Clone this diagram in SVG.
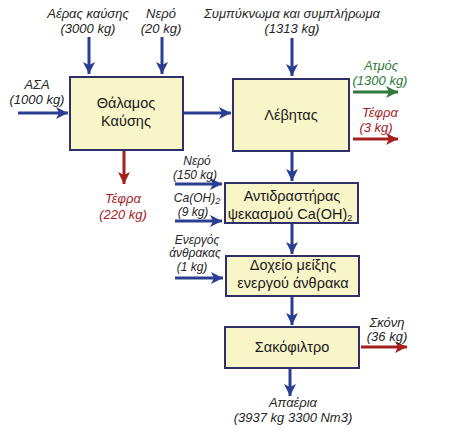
<svg xmlns="http://www.w3.org/2000/svg" width="452" height="438" viewBox="0 0 452 438">
<style>
.box{fill:#f8f5c9;stroke:#2f2f6a;stroke-width:2}
.bt{font-family:"Liberation Sans",Arial,sans-serif;font-size:14.5px;fill:#1a1a1a;text-anchor:middle}
.lb{font-family:"Liberation Sans",Arial,sans-serif;font-size:13px;font-style:italic;fill:#262626;text-anchor:middle}
.sm{font-size:12px}
.g{fill:#2e7a3a}
.r{fill:#a3201e}
.ab{stroke:#2b3e94;stroke-width:3;fill:none;marker-end:url(#mb)}
.ag{stroke:#2e7a3a;stroke-width:3;fill:none;marker-end:url(#mg)}
.ar{stroke:#a3201e;stroke-width:3;fill:none;marker-end:url(#mr)}
</style>
<defs>
<marker id="mb" markerUnits="userSpaceOnUse" markerWidth="12" markerHeight="12" refX="12" refY="6" orient="auto"><path d="M0,0 L12,6 L0,12 L3,6 z" fill="#2b3e94"/></marker>
<marker id="mg" markerUnits="userSpaceOnUse" markerWidth="12" markerHeight="12" refX="12" refY="6" orient="auto"><path d="M0,0 L12,6 L0,12 L3,6 z" fill="#2e7a3a"/></marker>
<marker id="mr" markerUnits="userSpaceOnUse" markerWidth="12" markerHeight="12" refX="12" refY="6" orient="auto"><path d="M0,0 L12,6 L0,12 L3,6 z" fill="#a3201e"/></marker>
</defs>
<rect width="452" height="438" fill="#ffffff"/>
<g id="connectors">
<line class="ab" x1="18" y1="113" x2="68" y2="113"/>
<line class="ab" x1="89" y1="37" x2="89" y2="74"/>
<line class="ab" x1="162" y1="37" x2="162" y2="74"/>
<line class="ab" x1="292" y1="38" x2="292" y2="76"/>
<line class="ab" x1="184" y1="113" x2="231" y2="113"/>
<line class="ag" x1="353" y1="92" x2="398" y2="92"/>
<line class="ar" x1="353" y1="139" x2="398" y2="139"/>
<line class="ar" x1="124" y1="151" x2="124" y2="184"/>
<line class="ab" x1="292" y1="152" x2="292" y2="181"/>
<line class="ab" x1="175" y1="184" x2="222" y2="184"/>
<line class="ab" x1="175" y1="221" x2="222" y2="221"/>
<line class="ab" x1="292" y1="224" x2="292" y2="254"/>
<line class="ab" x1="175" y1="278" x2="223" y2="278"/>
<line class="ab" x1="292" y1="297" x2="292" y2="325"/>
<line class="ab" x1="290" y1="369" x2="290" y2="396"/>
<line class="ar" x1="361" y1="347" x2="407" y2="347"/>
</g>
<g id="labels">
<text class="lb" x="88" y="18">Αέρας καύσης</text>
<text class="lb" x="88" y="33">(3000 kg)</text>
<text class="lb" x="161" y="18">Νερό</text>
<text class="lb" x="161" y="33">(20 kg)</text>
<text class="lb" x="292" y="18">Συμπύκνωμα και συμπλήρωμα</text>
<text class="lb" x="292" y="33">(1313 kg)</text>
<text class="lb" x="37" y="89">ΑΣΑ</text>
<text class="lb" x="37" y="104">(1000 kg)</text>
<text class="lb g" x="381" y="70">Ατμός</text>
<text class="lb g" x="380" y="85">(1300 kg)</text>
<text class="lb r" x="380" y="117">Τέφρα</text>
<text class="lb r" x="376" y="132">(3 kg)</text>
<text class="lb r" x="123" y="203">Τέφρα</text>
<text class="lb r" x="123" y="219">(220 kg)</text>
<text class="lb sm" x="197" y="165">Νερό</text>
<text class="lb sm" x="195" y="179">(150 kg)</text>
<text class="lb sm" x="197" y="202">Ca(OH)<tspan font-size="9" dy="2">2</tspan></text>
<text class="lb sm" x="193" y="216">(9 kg)</text>
<text class="lb sm" x="197" y="244">Ενεργός</text>
<text class="lb sm" x="195" y="257">άνθρακας</text>
<text class="lb sm" x="192" y="271">(1 kg)</text>
<text class="lb" x="387" y="327">Σκόνη</text>
<text class="lb" x="387" y="341">(36 kg)</text>
<text class="lb" x="293" y="407">Απαέρια</text>
<text class="lb" x="293" y="422">(3937 kg 3300 Nm3)</text>
</g>
<g id="node1">
<rect class="box" x="70" y="77" width="113" height="73"/>
<text class="bt" x="126" y="108">Θάλαμος</text>
<text class="bt" x="126" y="126">Καύσης</text>
</g>
<g id="node2">
<rect class="box" x="233" y="79" width="116" height="72"/>
<text class="bt" x="291" y="120">Λέβητας</text>
</g>
<g id="node3">
<rect class="box" x="225" y="183" width="133" height="40"/>
<text class="bt" x="292" y="201">Αντιδραστήρας</text>
<text class="bt" x="290" y="219">ψεκασμού Ca(OH)<tspan font-size="9" dy="2">2</tspan></text>
</g>
<g id="node4">
<rect class="box" x="226" y="256" width="133" height="40"/>
<text class="bt" x="293" y="270">Δοχείο μείξης</text>
<text class="bt" x="293" y="288">ενεργού άνθρακα</text>
</g>
<g id="node5">
<rect class="box" x="225" y="327" width="134" height="41"/>
<text class="bt" x="292" y="352">Σακόφιλτρο</text>
</g>
</svg>
